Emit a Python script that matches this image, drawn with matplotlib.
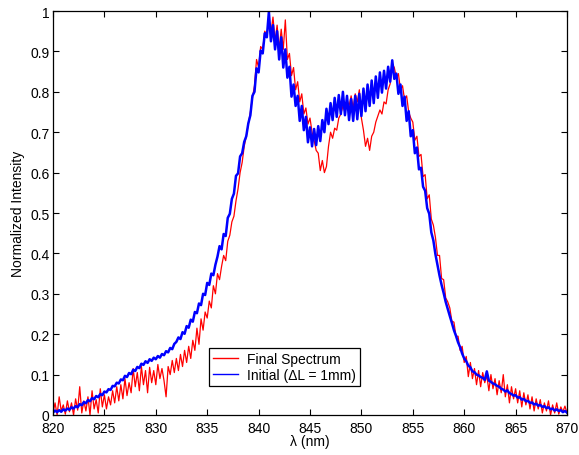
import numpy as np
import matplotlib
matplotlib.use("Agg")
import matplotlib.pyplot as plt

plt.rcParams['font.family'] = ['Liberation Sans', 'DejaVu Sans']

wl_start, wl_stop = 820.0, 870.0

# Initial spectrum (blue), sampled every 0.2 nm from 820 to 870
initial = [
    0.006, 0.011, 0.007, 0.012, 0.008,
    0.014, 0.011, 0.016, 0.013, 0.019,
    0.016, 0.022, 0.019, 0.027, 0.024,
    0.032, 0.029, 0.037, 0.034, 0.042,
    0.039, 0.047, 0.044, 0.052, 0.049,
    0.058, 0.056, 0.064, 0.062, 0.072,
    0.071, 0.080, 0.078, 0.088, 0.086,
    0.097, 0.094, 0.104, 0.101, 0.112,
    0.109, 0.119, 0.116, 0.127, 0.124,
    0.133, 0.129, 0.138, 0.134, 0.142,
    0.138, 0.146, 0.142, 0.151, 0.148,
    0.158, 0.155, 0.166, 0.163, 0.176,
    0.181, 0.192, 0.188, 0.205, 0.201,
    0.220, 0.216, 0.236, 0.231, 0.255,
    0.252, 0.276, 0.272, 0.300, 0.297,
    0.327, 0.322, 0.350, 0.346, 0.372,
    0.392, 0.418, 0.410, 0.448, 0.443,
    0.488, 0.498, 0.535, 0.548, 0.592,
    0.598, 0.640, 0.648, 0.676, 0.690,
    0.722, 0.742, 0.790, 0.800, 0.858,
    0.848, 0.902, 0.895, 0.945, 0.935,
    0.998, 0.925, 0.965, 0.905, 0.950,
    0.880, 0.935, 0.860, 0.905, 0.835,
    0.862, 0.788, 0.818, 0.765, 0.790,
    0.728, 0.765, 0.705, 0.738, 0.675,
    0.712, 0.665, 0.708, 0.668, 0.715,
    0.678, 0.730, 0.700, 0.758, 0.720,
    0.772, 0.730, 0.785, 0.738, 0.792,
    0.745, 0.800, 0.742, 0.790, 0.730,
    0.782, 0.728, 0.790, 0.732, 0.795,
    0.740, 0.808, 0.752, 0.818, 0.765,
    0.828, 0.772, 0.838, 0.785, 0.848,
    0.798, 0.852, 0.808, 0.862, 0.825,
    0.878, 0.832, 0.845, 0.795, 0.818,
    0.765, 0.788, 0.728, 0.752, 0.690,
    0.705, 0.648, 0.662, 0.608, 0.612,
    0.565, 0.555, 0.512, 0.498, 0.452,
    0.432, 0.398, 0.372, 0.345, 0.322,
    0.302, 0.280, 0.262, 0.245, 0.228,
    0.210, 0.196, 0.180, 0.168, 0.152,
    0.140, 0.133, 0.122, 0.118, 0.108,
    0.106, 0.100, 0.098, 0.094, 0.092,
    0.087, 0.108, 0.085, 0.082, 0.078,
    0.076, 0.072, 0.070, 0.065, 0.063,
    0.058, 0.061, 0.054, 0.052, 0.048,
    0.049, 0.043, 0.044, 0.038, 0.040,
    0.034, 0.035, 0.030, 0.031, 0.026,
    0.028, 0.023, 0.025, 0.020, 0.022,
    0.017, 0.019, 0.014, 0.016, 0.011,
    0.014, 0.010, 0.012, 0.007, 0.010,
    0.006,
]

# Final spectrum (red), sampled every 0.2 nm from 820 to 870
final = [
    0.005, 0.030, 0.000, 0.045, 0.010,
    0.025, 0.002, 0.035, 0.008, 0.030,
    0.000, 0.040, 0.012, 0.070, 0.005,
    0.035, 0.010, 0.045, 0.000, 0.060,
    0.015, 0.038, 0.005, 0.065, 0.020,
    0.050, 0.015, 0.045, 0.025, 0.060,
    0.030, 0.070, 0.035, 0.075, 0.040,
    0.090, 0.048, 0.080, 0.055, 0.115,
    0.070, 0.105, 0.060, 0.120, 0.075,
    0.110, 0.055, 0.118, 0.080, 0.110,
    0.075, 0.125, 0.090, 0.115, 0.085,
    0.045, 0.120, 0.100, 0.135, 0.105,
    0.140, 0.110, 0.150, 0.120, 0.160,
    0.130, 0.170, 0.140, 0.185, 0.160,
    0.215, 0.175, 0.238, 0.210, 0.255,
    0.240, 0.282, 0.265, 0.320, 0.300,
    0.350, 0.335, 0.368, 0.395, 0.382,
    0.430, 0.445, 0.478, 0.492, 0.530,
    0.560, 0.600, 0.625, 0.665, 0.690,
    0.720, 0.750, 0.785, 0.815, 0.880,
    0.860, 0.912, 0.905, 0.950, 0.940,
    0.975, 0.945, 0.985, 0.925, 0.965,
    0.905, 0.955, 0.905, 0.978, 0.880,
    0.895, 0.840, 0.860, 0.805, 0.825,
    0.775, 0.795, 0.745, 0.760, 0.720,
    0.735, 0.700, 0.680, 0.655, 0.648,
    0.605, 0.630, 0.600, 0.615, 0.665,
    0.700, 0.685, 0.710, 0.705, 0.735,
    0.745, 0.765, 0.750, 0.780, 0.765,
    0.790, 0.760, 0.795, 0.775, 0.805,
    0.735, 0.705, 0.665, 0.685, 0.655,
    0.690, 0.700, 0.725, 0.740, 0.755,
    0.745, 0.775, 0.770, 0.805, 0.820,
    0.870, 0.860, 0.835, 0.845, 0.805,
    0.815, 0.780, 0.790, 0.750, 0.735,
    0.725, 0.680, 0.690, 0.640, 0.645,
    0.590, 0.595, 0.535, 0.545, 0.485,
    0.470, 0.440, 0.395, 0.395, 0.338,
    0.335, 0.290, 0.280, 0.265, 0.232,
    0.230, 0.195, 0.195, 0.160, 0.170,
    0.130, 0.145, 0.095, 0.130, 0.090,
    0.115, 0.075, 0.110, 0.070, 0.105,
    0.080, 0.098, 0.060, 0.100, 0.065,
    0.090, 0.050, 0.085, 0.055, 0.100,
    0.045, 0.075, 0.030, 0.070, 0.040,
    0.065, 0.030, 0.060, 0.020, 0.055,
    0.025, 0.050, 0.015, 0.045, 0.010,
    0.040, 0.015, 0.038, 0.005, 0.030,
    0.010, 0.035, 0.000, 0.025, 0.005,
    0.030, 0.002, 0.020, 0.008, 0.022,
    0.005,
]

x_ticks = [820, 825, 830, 835, 840, 845, 850, 855, 860, 865, 870]
y_ticks = [0, 0.1, 0.2, 0.3, 0.4, 0.5, 0.6, 0.7, 0.8, 0.9, 1]
y_ticklabels = ["0", "0.1", "0.2", "0.3", "0.4", "0.5", "0.6", "0.7", "0.8", "0.9", "1"]

wl_final = np.linspace(wl_start, wl_stop, len(final))
wl_initial = np.linspace(wl_start, wl_stop, len(initial))

fig = plt.figure(figsize=(5.79, 4.56), dpi=100)
ax = fig.add_axes([53 / 579, 40 / 456, 514 / 579, 404 / 456])

ax.plot(wl_final, final, color='#ff0000', lw=0.9, label='Final Spectrum')
ax.plot(wl_initial, initial, color='#0000ff', lw=1.8, label='Initial (ΔL = 1mm)')

ax.set_xlim(820, 870)
ax.set_ylim(0, 1)
ax.set_xticks(x_ticks)
ax.set_yticks(y_ticks)
ax.set_yticklabels(y_ticklabels)
ax.tick_params(direction='in', top=True, right=True, length=4, width=0.8,
               labelsize=10)
ax.tick_params(axis='x', pad=4.5)
ax.tick_params(axis='y', pad=2.5)
for s in ax.spines.values():
    s.set_linewidth(0.9)
ax.set_xlabel('λ (nm)', fontsize=10, labelpad=-1)
ax.set_ylabel('Normalized Intensity', fontsize=10, labelpad=4)

leg = ax.legend(loc='lower left', bbox_to_anchor=(0.3035, 0.072),
                borderaxespad=0, fontsize=10, fancybox=False, framealpha=1,
                edgecolor='black', handlelength=1.8, handletextpad=0.65,
                borderpad=0.3, labelspacing=0.1)
leg.get_frame().set_linewidth(0.9)
for line in leg.get_lines():
    line.set_linewidth(1.0)

fig.savefig('out.png', dpi=100)
